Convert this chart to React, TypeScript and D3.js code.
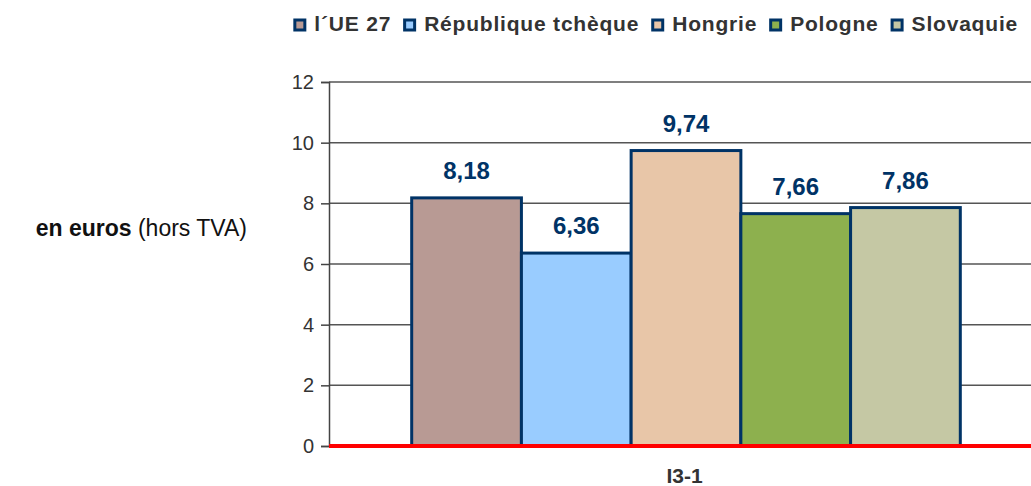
import React, { useEffect, useRef } from 'react';
import * as d3 from 'd3';

const categories = ['I3-1'];
const seriesNames = ['l´UE 27', 'République tchèque', 'Hongrie', 'Pologne', 'Slovaquie'];
const seriesValues = [8.18, 6.36, 9.74, 7.66, 7.86];
const seriesColors = ['#B89A94', '#99CCFF', '#E8C6A8', '#8DB04E', '#C5C8A4'];
const yTicks = [0, 2, 4, 6, 8, 10, 12];

const App = () => {
  const svgRef = useRef<SVGSVGElement | null>(null);

  useEffect(() => {
    const width = 1031;
    const height = 486;
    const margin = { top: 82, right: -9, bottom: 40, left: 329 };
    const innerW = width - margin.left - margin.right;
    const innerH = height - margin.top - margin.bottom;
    const font = 'Liberation Sans, Arial, sans-serif';

    const root = d3.select(svgRef.current);
    root.selectAll('*').remove();
    root.attr('width', width).attr('height', height)
      .style('position', 'absolute').style('left', 0).style('top', 0);

    const g = root.append('g').attr('transform', `translate(${margin.left},${margin.top})`);

    const y = d3.scaleLinear().domain([0, 12]).range([innerH, 0]);
    const x0 = d3.scaleBand().domain(categories).range([0, innerW]).paddingInner(0).paddingOuter(0.148);
    const x1 = d3.scaleBand().domain(seriesNames).range([0, x0.bandwidth()]).padding(0);

    // gridlines
    g.selectAll('line.grid')
      .data(yTicks.filter((t) => t > 0))
      .join('line')
      .attr('class', 'grid')
      .attr('x1', 0)
      .attr('x2', innerW)
      .attr('y1', (d) => y(d))
      .attr('y2', (d) => y(d))
      .attr('stroke', '#555')
      .attr('stroke-width', 1.5);

    // y axis
    const yAxis = g.append('g').call(d3.axisLeft(y).tickValues(yTicks).tickSize(8).tickPadding(6));
    yAxis.select('.domain').attr('stroke', '#444').attr('stroke-width', 1.5);
    yAxis.selectAll('.tick line').attr('stroke', '#444').attr('stroke-width', 1.5);
    yAxis.selectAll('.tick text')
      .attr('font-family', font)
      .attr('font-size', 20)
      .attr('fill', '#333')
      .attr('x', -15);

    // bars
    const groups = g.selectAll('g.cat')
      .data(categories)
      .join('g')
      .attr('class', 'cat')
      .attr('transform', (d) => `translate(${x0(d)},0)`);

    groups.selectAll('rect')
      .data(seriesNames.map((name, i) => ({ name, value: seriesValues[i], color: seriesColors[i] })))
      .join('rect')
      .attr('x', (d) => x1(d.name)! + 1.5)
      .attr('y', (d) => y(d.value))
      .attr('width', x1.bandwidth())
      .attr('height', (d) => innerH - y(d.value))
      .attr('fill', (d) => d.color)
      .attr('stroke', '#003366')
      .attr('stroke-width', 3);

    groups.selectAll('text.val')
      .data(seriesNames.map((name, i) => ({ name, value: seriesValues[i] })))
      .join('text')
      .attr('class', 'val')
      .attr('x', (d) => x1(d.name)! + x1.bandwidth() / 2 + 1.5)
      .attr('y', (d) => y(d.value) - 19)
      .attr('text-anchor', 'middle')
      .attr('font-family', font)
      .attr('font-weight', 'bold')
      .attr('font-size', 24)
      .attr('fill', '#003366')
      .text((d) => d3.format('.2f')(d.value).replace('.', ','));

    // red baseline
    g.append('line')
      .attr('x1', 0)
      .attr('x2', innerW)
      .attr('y1', y(0))
      .attr('y2', y(0))
      .attr('stroke', '#FF0000')
      .attr('stroke-width', 4);

    // category label
    g.selectAll('text.cat')
      .data(categories)
      .join('text')
      .attr('class', 'cat')
      .attr('x', (d) => x0(d)! + x0.bandwidth() / 2)
      .attr('y', innerH + 37)
      .attr('text-anchor', 'middle')
      .attr('font-family', font)
      .attr('font-weight', 'bold')
      .attr('font-size', 21)
      .attr('fill', '#333')
      .text((d) => d);

    // y axis title
    const title = root.append('text')
      .attr('x', 247)
      .attr('y', 236)
      .attr('text-anchor', 'end')
      .attr('font-family', font)
      .attr('font-size', 23)
      .attr('fill', '#111');
    title.append('tspan').attr('font-weight', 'bold').text('en euros');
    title.append('tspan').text(' (hors TVA)');

    // legend, right-aligned near the top edge
    const legend = root.append('g').attr('transform', 'translate(0,31)');
    const items = legend.selectAll('g.item')
      .data(seriesNames)
      .join('g')
      .attr('class', 'item');
    items.append('rect')
      .attr('x', 1.5)
      .attr('y', -11)
      .attr('width', 10)
      .attr('height', 10)
      .attr('fill', (d, i) => seriesColors[i])
      .attr('stroke', '#003366')
      .attr('stroke-width', 3);
    items.append('text')
      .attr('x', 21)
      .attr('y', 0)
      .attr('font-family', font)
      .attr('font-weight', 'bold')
      .attr('font-size', 21)
      .attr('letter-spacing', 0.8)
      .attr('fill', '#333')
      .text((d) => d);
    const widths: number[] = [];
    items.each(function () {
      widths.push((d3.select(this).select('text').node() as SVGTextElement).getComputedTextLength());
    });
    const gap = 12;
    const total = d3.sum(widths, (w) => 21 + w + gap) - gap;
    let cx = 1018 - total;
    items.attr('transform', (d, i) => {
      const t = `translate(${cx},0)`;
      cx += 21 + widths[i] + gap;
      return t;
    });
  }, []);

  return <svg ref={svgRef}></svg>;
};

export default App;
